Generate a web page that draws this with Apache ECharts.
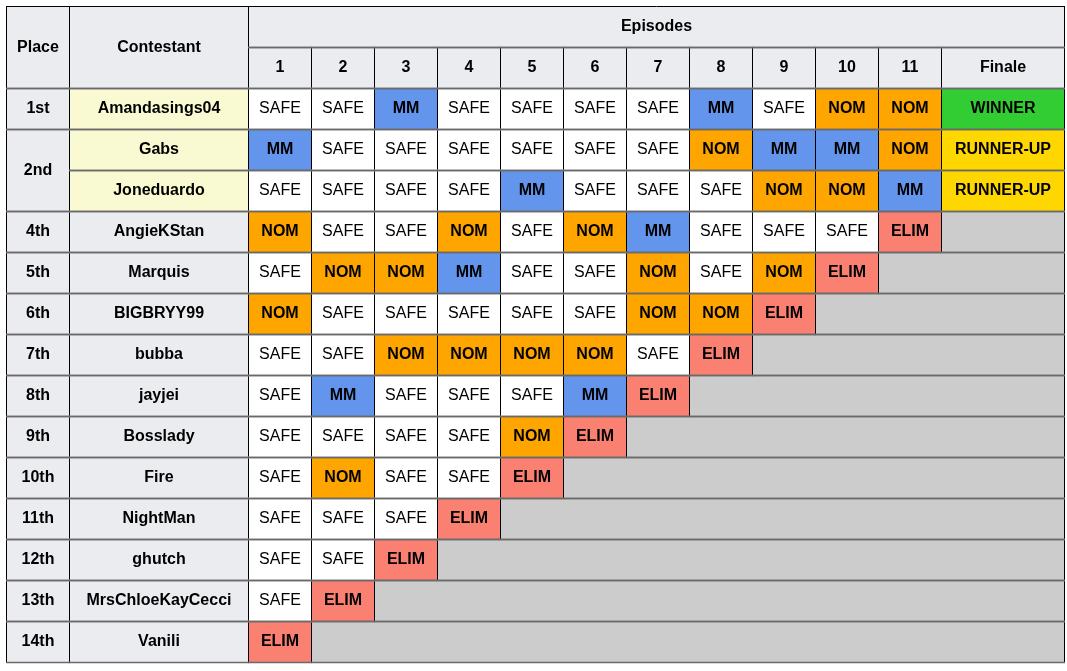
<!DOCTYPE html>
<html>
<head>
<meta charset="utf-8">
<script src="https://cdn.jsdelivr.net/npm/echarts@6/dist/echarts.min.js"></script>
<style>html,body{margin:0;padding:0;background:#fff;}#c{width:1067px;height:671px;}</style>
</head>
<body>
<div id="c"></div>
<script>
// ---- data ----
const places = ["1st","2nd","2nd","4th","5th","6th","7th","8th","9th","10th","11th","12th","13th","14th"];
const contestants = ["Amandasings04","Gabs","Joneduardo","AngieKStan","Marquis","BIGBRYY99","bubba","jayjei","Bosslady","Fire","NightMan","ghutch","MrsChloeKayCecci","Vanili"];
const episodeLabels = ["1","2","3","4","5","6","7","8","9","10","11","Finale"];
const results = [
  ["SAFE","SAFE","MM","SAFE","SAFE","SAFE","SAFE","MM","SAFE","NOM","NOM","WINNER"],
  ["MM","SAFE","SAFE","SAFE","SAFE","SAFE","SAFE","NOM","MM","MM","NOM","RUNNER-UP"],
  ["SAFE","SAFE","SAFE","SAFE","MM","SAFE","SAFE","SAFE","NOM","NOM","MM","RUNNER-UP"],
  ["NOM","SAFE","SAFE","NOM","SAFE","NOM","MM","SAFE","SAFE","SAFE","ELIM"],
  ["SAFE","NOM","NOM","MM","SAFE","SAFE","NOM","SAFE","NOM","ELIM"],
  ["NOM","SAFE","SAFE","SAFE","SAFE","SAFE","NOM","NOM","ELIM"],
  ["SAFE","SAFE","NOM","NOM","NOM","NOM","SAFE","ELIM"],
  ["SAFE","MM","SAFE","SAFE","SAFE","MM","ELIM"],
  ["SAFE","SAFE","SAFE","SAFE","NOM","ELIM"],
  ["SAFE","NOM","SAFE","SAFE","ELIM"],
  ["SAFE","SAFE","SAFE","ELIM"],
  ["SAFE","SAFE","ELIM"],
  ["SAFE","ELIM"],
  ["ELIM"]
];
const finalistCount = 3;

// ---- styling / layout ----
const colWidths = [63,179,63,63,63,63,63,63,63,63,63,63,63,123];
const fills = {SAFE:"#ffffff",MM:"#6495ED",NOM:"#FFA500",ELIM:"#FA8072",WINNER:"#32CD32","RUNNER-UP":"#FFD700",OUT:"#cccccc",HEAD:"#eaecf0",FINAL:"#FAFAD2"};
const colEdge = [0];
colWidths.forEach(w => colEdge.push(colEdge[colEdge.length-1] + w));
const totalW = colEdge[colEdge.length-1];
const headerRows = 2;
const totalRows = headerRows + contestants.length;

const cells = [];
function addCell(c0, c1, r0, r1, text, fill, bold) {
  cells.push({x0: colEdge[c0], x1: colEdge[c1], y0: r0, y1: r1, text, fill, bold});
}
addCell(0,1,0,2,"Place",fills.HEAD,true);
addCell(1,2,0,2,"Contestant",fills.HEAD,true);
addCell(2,14,0,1,"Episodes",fills.HEAD,true);
episodeLabels.forEach((l,i) => addCell(2+i,3+i,1,2,l,fills.HEAD,true));
let i = 0;
while (i < places.length) {
  let j = i;
  while (j + 1 < places.length && places[j+1] === places[i]) j++;
  addCell(0,1,headerRows+i,headerRows+j+1,places[i],fills.HEAD,true);
  i = j + 1;
}
contestants.forEach((name, r) => {
  addCell(1,2,headerRows+r,headerRows+r+1,name, r < finalistCount ? fills.FINAL : fills.HEAD, true);
  const res = results[r];
  res.forEach((v, k) => addCell(2+k,3+k,headerRows+r,headerRows+r+1,v,fills[v], v !== "SAFE"));
  if (res.length < episodeLabels.length) {
    addCell(2+res.length,14,headerRows+r,headerRows+r+1,"",fills.OUT,false);
  }
});

const chart = echarts.init(document.getElementById('c'), null, {renderer:'canvas'});
chart.setOption({
  animation: false,
  grid: {left: 6, top: 6, width: 1058, height: 656},
  xAxis: {type:'value', min:0, max: totalW, show:false},
  yAxis: {type:'value', min:0, max: totalRows, inverse:true, show:false},
  series: [{
    type: 'custom',
    coordinateSystem: 'cartesian2d',
    data: cells.map((c, idx) => [c.x0, c.y0, c.x1, c.y1, idx]),
    renderItem: function (params, api) {
      const c = cells[api.value(4)];
      const p0 = api.coord([api.value(0), api.value(1)]);
      const p1 = api.coord([api.value(2), api.value(3)]);
      const x0 = Math.round(p0[0]), y0 = Math.round(p0[1]);
      const x1 = Math.round(p1[0]), y1 = Math.round(p1[1]);
      const children = [
        {type:'rect', shape:{x:x0, y:y0, width:x1-x0, height:y1-y0}, style:{fill:c.fill}, z2:0},
        {type:'line', shape:{x1:x0+0.5, y1:y0, x2:x0+0.5, y2:y1}, style:{stroke:'#000', lineWidth:1}, z2:10},
        {type:'line', shape:{x1:x1+0.5, y1:y0, x2:x1+0.5, y2:y1}, style:{stroke:'#000', lineWidth:1}, z2:10},
        {type:'line', shape:{x1:x0, y1:y0+0.5, x2:x1+1, y2:y0+0.5}, style:{stroke: c.y0 === 0 ? '#000' : '#6a6a6a', lineWidth: c.y0 === 0 ? 1 : 1.5}, z2:12},
        {type:'line', shape:{x1:x0, y1:y1+0.5, x2:x1+1, y2:y1+0.5}, style:{stroke:'#6a6a6a', lineWidth:1.5}, z2:12}
      ];
      if (c.text) {
        children.push({type:'text', x:(x0+x1)/2+0.5, y:(y0+y1)/2+0.5, z2:20,
          style:{text:c.text, align:'center', verticalAlign:'middle', fill:'#000',
            font:(c.bold ? 'bold ' : '') + '16px "Liberation Sans", Arial, sans-serif'}});
      }
      return {type:'group', children};
    }
  }]
});
</script>
</body>
</html>
